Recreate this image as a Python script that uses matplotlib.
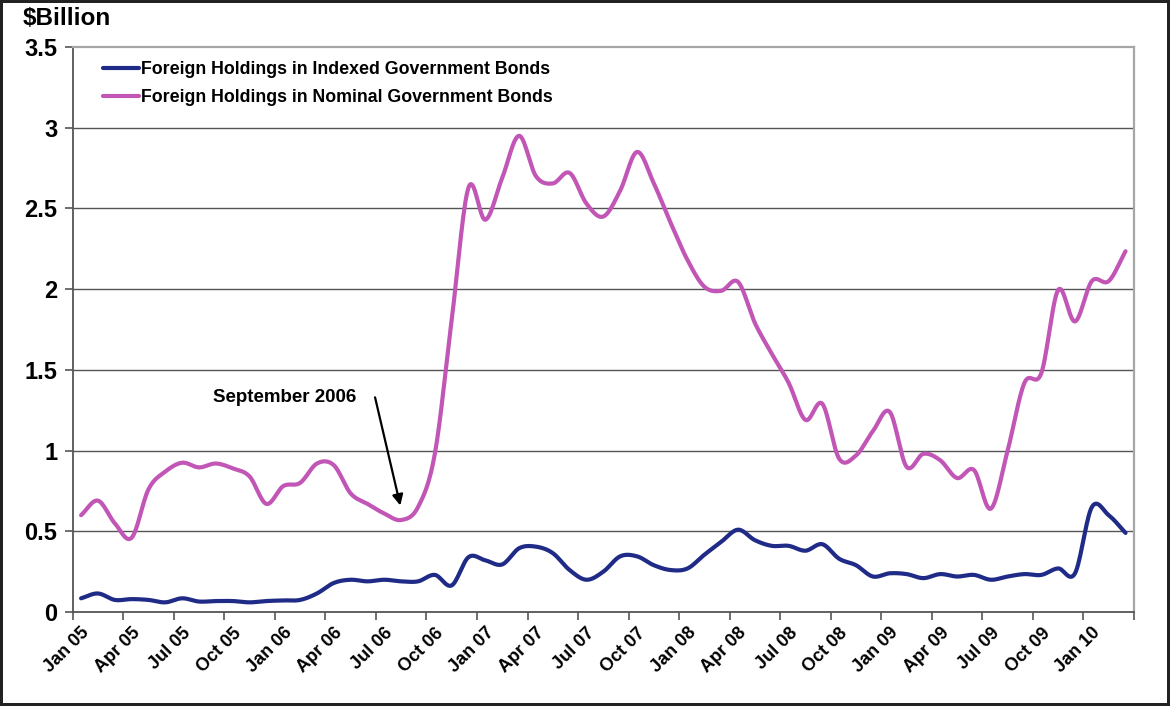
import numpy as np
import matplotlib
matplotlib.use('Agg')
import matplotlib.pyplot as plt
import matplotlib.ticker as mt

plt.rcParams['font.family'] = ['Liberation Sans', 'DejaVu Sans']

# Monthly series, Jan 2005 - Mar 2010 ($ billion)
months = ['Jan', 'Feb', 'Mar', 'Apr', 'May', 'Jun',
          'Jul', 'Aug', 'Sep', 'Oct', 'Nov', 'Dec']
labels = ['%s %02d' % (months[k % 12], 5 + k // 12) for k in range(63)]

indexed = [0.085, 0.115, 0.075, 0.08, 0.075, 0.06, 0.085, 0.065, 0.068, 0.068,
           0.06, 0.068, 0.072, 0.075, 0.115, 0.18, 0.20, 0.19, 0.20, 0.19,
           0.19, 0.23, 0.165, 0.34, 0.32, 0.295, 0.395, 0.405, 0.365, 0.26,
           0.20, 0.25, 0.345, 0.345, 0.29, 0.26, 0.27, 0.355, 0.435, 0.51,
           0.445, 0.41, 0.41, 0.38, 0.42, 0.33, 0.29, 0.22, 0.24, 0.235,
           0.21, 0.235, 0.22, 0.23, 0.20, 0.22, 0.235, 0.23, 0.27, 0.24,
           0.65, 0.60, 0.49]

nominal = [0.60, 0.69, 0.55, 0.46, 0.76, 0.87, 0.925, 0.896, 0.92, 0.89,
           0.84, 0.67, 0.78, 0.80, 0.92, 0.91, 0.735, 0.67, 0.61, 0.57,
           0.65, 0.98, 1.81, 2.63, 2.43, 2.69, 2.95, 2.70, 2.655, 2.72,
           2.53, 2.45, 2.61, 2.85, 2.655, 2.41, 2.18, 2.015, 1.99, 2.045,
           1.79, 1.60, 1.42, 1.19, 1.29, 0.95, 0.97, 1.12, 1.24, 0.90,
           0.98, 0.94, 0.83, 0.88, 0.64, 1.00, 1.42, 1.48, 1.995, 1.80,
           2.05, 2.05, 2.235]

BLUE = '#1f2b86'
PINK = '#c256b6'


def smooth(y, n=16):
    # Catmull-Rom curve through the points, like Excel's smoothed line
    y = np.asarray(y, float)
    p = np.concatenate([[2 * y[0] - y[1]], y, [2 * y[-1] - y[-2]]])
    xs, ys = [], []
    t = np.linspace(0, 1, n, endpoint=False)
    for i in range(len(y) - 1):
        p0, p1, p2, p3 = p[i], p[i + 1], p[i + 2], p[i + 3]
        v = 0.5 * (2 * p1 + (-p0 + p2) * t + (2 * p0 - 5 * p1 + 4 * p2 - p3) * t ** 2
                   + (-p0 + 3 * p1 - 3 * p2 + p3) * t ** 3)
        xs.append(i + t)
        ys.append(v)
    xs.append([len(y) - 1])
    ys.append([y[-1]])
    return np.concatenate(xs), np.concatenate(ys)


fig = plt.figure(figsize=(11.7, 7.06), dpi=100)
fig.patch.set_edgecolor('#222222')
fig.patch.set_linewidth(3)
ax = fig.add_axes([0.0621, 0.1331, 0.9071, 0.8003])

x1, y1 = smooth(indexed)
x2, y2 = smooth(nominal)
ax.plot(x1, y1, color=BLUE, lw=3.0, solid_capstyle='round',
        label='Foreign Holdings in Indexed Government Bonds')
ax.plot(x2, y2, color=PINK, lw=3.0, solid_capstyle='round',
        label='Foreign Holdings in Nominal Government Bonds')

ax.set_xlim(-0.5, len(labels) - 0.5)
ax.set_ylim(0, 3.5)

# y axis
ax.yaxis.set_major_locator(mt.MultipleLocator(0.5))
ax.yaxis.set_major_formatter(mt.FuncFormatter(lambda v, p: ('%g' % v)))
ax.tick_params(axis='y', direction='out', length=6, width=1.2, color='#555555',
               labelsize=17, pad=5)
for lab in ax.get_yticklabels():
    lab.set_fontweight('bold')

# x axis: labels every third month, tick marks between categories
ax.set_xticks(range(0, len(labels), 3))
ax.set_xticklabels(labels[::3], rotation=45, ha='right', va='top',
                   rotation_mode='anchor', fontsize=13, fontweight='bold')
ax.set_xticks(np.arange(-0.5, len(labels), 3), minor=True)
ax.tick_params(axis='x', which='major', length=0, pad=9)
ax.tick_params(axis='x', which='minor', direction='out', length=6, width=1.2,
               color='#555555')

for v in np.arange(0.5, 3.01, 0.5):
    ax.axhline(v, color='#555555', lw=1.0, zorder=0)

for s in ['top', 'right']:
    ax.spines[s].set_color('#a6a6a6')
    ax.spines[s].set_linewidth(1.6)
for s in ['left', 'bottom']:
    ax.spines[s].set_color('#555555')
    ax.spines[s].set_linewidth(1.3)

fig.text(0.019, 0.974, '$Billion', fontsize=17.5, fontweight='bold',
         ha='left', va='center')

leg = ax.legend(loc='upper left', bbox_to_anchor=(0.022, 0.987), frameon=False,
                fontsize=12.8, handlelength=2.0, handletextpad=0.15,
                labelspacing=0.6, borderaxespad=0)
for t in leg.get_texts():
    t.set_fontweight('bold')

ax.annotate('', xy=(18.95, 0.66), xytext=(17.45, 1.33),
            arrowprops=dict(arrowstyle='-|>', color='black', lw=1.6,
                            mutation_scale=16, shrinkA=0, shrinkB=0))
ax.text(12.1, 1.33, 'September 2006', fontsize=13.5, fontweight='bold',
        ha='center', va='center')

fig.savefig('out.png', dpi=100)
